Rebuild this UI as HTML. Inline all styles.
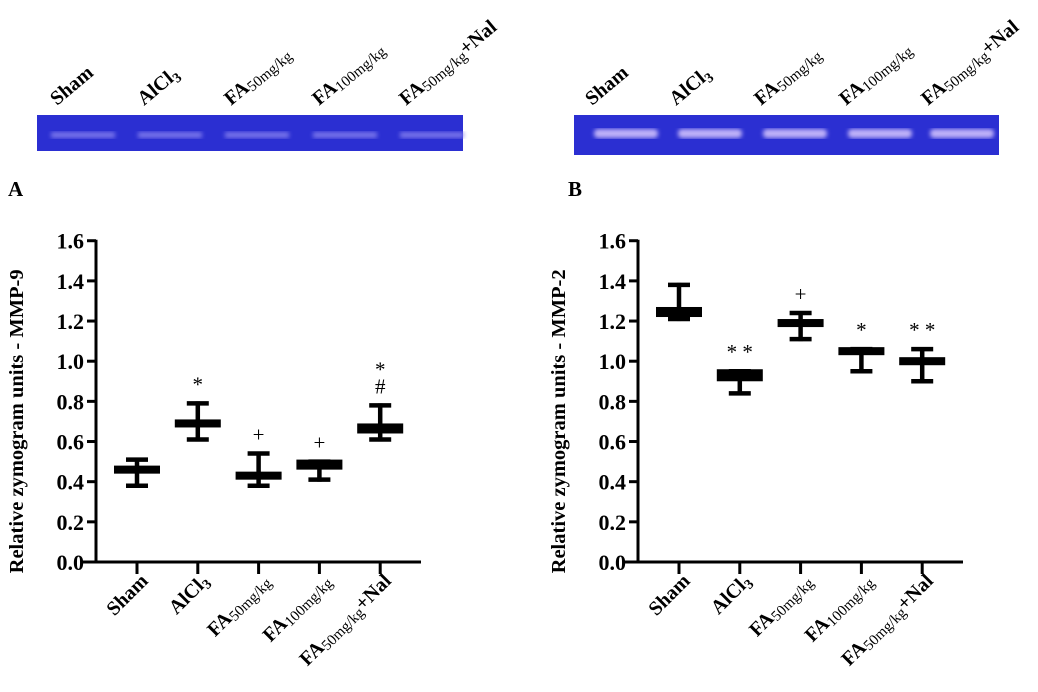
<!DOCTYPE html>
<html><head><meta charset="utf-8"><style>
body{margin:0;background:#fff;width:1038px;height:687px;overflow:hidden}
svg text{font-family:"Liberation Serif",serif;font-weight:bold;fill:#000}
</style></head><body>
<svg id="fig" width="1038" height="687">
<defs>
<filter id="blur"><feGaussianBlur stdDeviation="2"/></filter>
</defs>
<g id="gelA">
<rect x="37" y="115" width="426" height="36" fill="#2b2fd2"/>
</g>
<g id="gelB">
<rect x="574" y="115" width="425" height="40" fill="#2b2fd2"/>
</g>
<text x="8" y="196" font-size="21">A</text>
<text x="568" y="196" font-size="21">B</text>
</svg>
<script>
const groups=["Sham","AlCl3","FA50","FA100","FA50+Nal"];
const mmp9Min=[0.37,0.60,0.37,0.40,0.60];
const mmp9Q1=[0.44,0.67,0.41,0.46,0.64];
const mmp9Q3=[0.48,0.71,0.45,0.51,0.69];
const mmp9Max=[0.52,0.80,0.55,0.51,0.79];
const mmp9Sig=["","*","+","+","*\n#"];
const mmp2Min=[1.20,0.83,1.10,0.94,0.89];
const mmp2Q1=[1.22,0.90,1.17,1.03,0.98];
const mmp2Q3=[1.27,0.96,1.21,1.07,1.02];
const mmp2Max=[1.39,0.96,1.25,1.07,1.07];
const mmp2Sig=["","* *","+","*","* *"];
const yTicks=[0.0,0.2,0.4,0.6,0.8,1.0,1.2,1.4,1.6];
const NS="http://www.w3.org/2000/svg";
const svg=document.getElementById('fig');
function mk(t,a,p){const e=document.createElementNS(NS,t);for(const k in a)e.setAttribute(k,a[k]);(p||svg).appendChild(e);return e;}
function labelContent(t,i){
  if(i===0){t.textContent="Sham";return;}
  if(i===1){t.innerHTML='AlCl<tspan font-size="70%" dy="4">3</tspan>';return;}
  const sub=i===3?"100mg/kg":"50mg/kg";
  t.innerHTML='FA<tspan font-size="75%" style="font-weight:normal" dy="3">'+sub+'</tspan>'+(i===4?'<tspan dy="-3">+Nal</tspan>':'');
}
function panel(ax,title,mn,q1,q3,mx,sig){
  const y0=562,ppu=200.8;
  const y=v=>y0-v*ppu;
  const x=i=>ax+41+i*60.8;
  const g=mk('g',{});
  
  
  mk('line',{x1:ax,y1:y(1.6)-1,x2:ax,y2:y0,stroke:'#000','stroke-width':3},g);
  mk('line',{x1:ax-13,y1:y0,x2:ax+325,y2:y0,stroke:'#000','stroke-width':3},g);
  yTicks.forEach(v=>{
    mk('line',{x1:ax-9,y1:y(v),x2:ax,y2:y(v),stroke:'#000','stroke-width':3},g);
    const t=mk('text',{x:ax-12,y:y(v)+8,'font-size':22,'text-anchor':'end'},g);
    t.textContent=v.toFixed(1);
    
    
  });
  const yt=mk('text',{x:0,y:0,'font-size':20.5,'text-anchor':'middle',transform:`translate(${ax-73},${y(0.8)+20}) rotate(-90)`},g);
  yt.textContent=title;
  
  
  groups.forEach((gname,i)=>{
    const cx=x(i);
    mk('line',{x1:cx,y1:y0,x2:cx,y2:y0+12,stroke:'#000','stroke-width':3},g);
    const t=mk('text',{x:0,y:0,'font-size':20,'text-anchor':'end',transform:`translate(${cx+12},${y0+20}) rotate(-45)`},g);
    labelContent(t,i);
    
    
    const b=mk('g',{},g);
    
    
    mk('line',{x1:cx,y1:y(mx[i]),x2:cx,y2:y(mn[i]),stroke:'#000','stroke-width':4.5},b);
    mk('line',{x1:cx-11,y1:y(mx[i])+2,x2:cx+11,y2:y(mx[i])+2,stroke:'#000','stroke-width':4.5},b);
    mk('line',{x1:cx-11,y1:y(mn[i])-2,x2:cx+11,y2:y(mn[i])-2,stroke:'#000','stroke-width':4.5},b);
    mk('rect',{x:cx-23,y:y(q3[i]),width:46,height:Math.max(7,y(q1[i])-y(q3[i])),fill:'#000'},b);
    const lines=sig[i].split("\n");
    lines.forEach((s,k)=>{
      if(!s)return;
      const st=mk('text',{x:cx,y:y(mx[i])-10-(lines.length-1-k)*17,'font-size':21,'text-anchor':'middle',style:'font-weight:normal'},g);
      st.textContent=s;
      
      
    });
  });
}
panel(96,"Relative zymogram units - MMP-9",mmp9Min,mmp9Q1,mmp9Q3,mmp9Max,mmp9Sig);
panel(638,"Relative zymogram units - MMP-2",mmp2Min,mmp2Q1,mmp2Q3,mmp2Max,mmp2Sig);
const gelALanes=[83,170,257,345,432];
const gelBLanes=[626,710,795,880,962];
const gA=document.getElementById('gelA'),gB=document.getElementById('gelB');
gelALanes.forEach((cx,i)=>{
  mk('rect',{x:cx-32,y:132,width:64,height:6,fill:'#8a84f0',opacity:0.8,filter:'url(#blur)'},gA);
  const t=mk('text',{x:0,y:0,'font-size':20,transform:`translate(${cx-26},${106}) rotate(-40)`},gA);
  labelContent(t,i);
  
  
});
gelBLanes.forEach((cx,i)=>{
  mk('rect',{x:cx-32,y:129,width:64,height:9,rx:4,fill:'#d8c8ff',opacity:0.85,filter:'url(#blur)'},gB);
  const t=mk('text',{x:0,y:0,'font-size':20,transform:`translate(${cx-34},${106}) rotate(-40)`},gB);
  labelContent(t,i);
  
  
});
</script>
</body></html>
